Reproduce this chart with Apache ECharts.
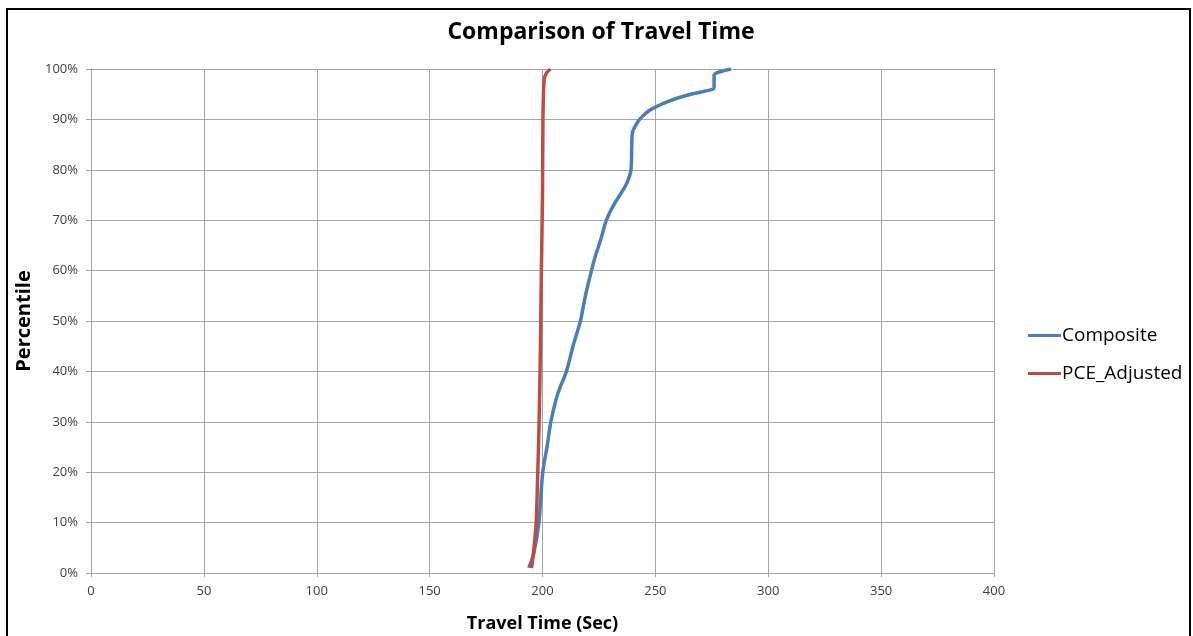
<!DOCTYPE html>
<html>
<head>
<meta charset="utf-8">
<script src="https://cdn.jsdelivr.net/npm/echarts@6/dist/echarts.min.js"></script>
<style>
  html, body { margin: 0; padding: 0; background: #fff; overflow: hidden; }
  #frame { position: absolute; left: 6px; top: 8px; width: 1185px; height: 628px; border: 2px solid #000; border-bottom: none; box-sizing: border-box; }
  #chart { position: absolute; left: 0; top: 0; width: 1193px; height: 636px; }
</style>
</head>
<body>
<div id="frame"></div>
<div id="chart"></div>
<script>
// Travel time (sec) vs percentile, two methods
const seriesNames = ['Composite', 'PCE_Adjusted'];

const compositeTime = [193.9, 196.2, 198.4, 200.1, 202.0, 203.7, 206.8, 210.6, 213.5, 216.8, 219.0, 221.7, 223.5, 225.7, 228.3, 231.5, 235.3, 237.5, 239.2, 239.5, 239.8, 241.5, 243.4, 247.8, 255.2, 264.0, 275.5, 276.0, 276.0, 279.0, 283.5];
const compositePct  = [1, 4, 10, 20, 25, 30, 35.6, 40, 45, 50, 55, 60, 63, 66, 70, 73, 75.7, 77.5, 80, 84, 87.3, 89, 90.2, 91.9, 93.5, 94.8, 96.0, 96.4, 98.8, 99.5, 100];

const pceTime = [195.1, 196.0, 197.2, 197.9, 198.5, 199.1, 199.5, 200.0, 200.2, 200.7, 201.6, 203.5];
const pcePct  = [1, 4, 10, 20, 30, 45, 60, 75, 90, 97.8, 99.1, 100];

const xTicks = { min: 0, max: 400, step: 50 };
const yTicks = { min: 0, max: 100, step: 10 };

const colors = ['#4a7ebb', '#be4b48'];

function pairs(xs, ys) { return xs.map((x, i) => [x, ys[i]]); }

const chart = echarts.init(document.getElementById('chart'), null, { renderer: 'canvas' });
const gridColor = '#a6a6a6';
const labelFont = 'Open Sans';

chart.setOption({
  backgroundColor: 'transparent',
  animation: false,
  title: {
    text: 'Comparison of Travel Time',
    left: 596, top: 16, textAlign: 'center',
    textStyle: { fontFamily: 'Open Sans', fontWeight: 'bold', fontSize: 23, color: '#000', letterSpacing: -0.2 }
  },
  legend: {
    orient: 'vertical', left: 1023, top: 321,
    itemWidth: 33, itemHeight: 3, itemGap: 19,
    icon: 'rect',
    textStyle: { fontFamily: 'Open Sans', fontSize: 19, color: '#000', padding: [0, 0, 0, -4] },
    data: seriesNames
  },
  grid: { left: 91, right: 199, top: 69, bottom: 63, outerBoundsMode: 'none' },
  xAxis: {
    type: 'value', min: xTicks.min, max: xTicks.max, interval: xTicks.step,
    name: 'Travel Time (Sec)', nameLocation: 'middle', nameGap: 42,
    nameTextStyle: { fontFamily: 'Open Sans', fontWeight: 'bold', fontSize: 18, color: '#000' },
    axisLine: { show: true, lineStyle: { color: gridColor, width: 1 } },
    axisTick: { show: true, length: 4, lineStyle: { color: gridColor } },
    axisLabel: { fontFamily: labelFont, fontSize: 13, color: '#404040', margin: 12 },
    splitLine: { show: true, lineStyle: { color: gridColor, width: 1 } }
  },
  yAxis: {
    type: 'value', min: yTicks.min, max: yTicks.max, interval: yTicks.step,
    name: 'Percentile', nameLocation: 'middle', nameGap: 54, nameRotate: 90,
    nameTextStyle: { fontFamily: 'Open Sans', fontWeight: 'bold', fontSize: 20, color: '#000' },
    axisLine: { show: true, lineStyle: { color: gridColor, width: 1 } },
    axisTick: { show: true, length: 5, lineStyle: { color: gridColor } },
    axisLabel: { fontFamily: labelFont, fontSize: 13, color: '#404040', margin: 13, formatter: '{value}%' },
    splitLine: { show: true, lineStyle: { color: gridColor, width: 1 } }
  },
  series: [
    {
      name: seriesNames[0], type: 'line', showSymbol: false, smooth: 0.3,
      data: pairs(compositeTime, compositePct),
      lineStyle: { color: colors[0], width: 3.5 }, itemStyle: { color: colors[0] }, z: 2
    },
    {
      name: seriesNames[1], type: 'line', showSymbol: false, smooth: 0.3,
      data: pairs(pceTime, pcePct),
      lineStyle: { color: colors[1], width: 3.5 }, itemStyle: { color: colors[1] }, z: 3
    }
  ]
});
</script>
</body>
</html>
